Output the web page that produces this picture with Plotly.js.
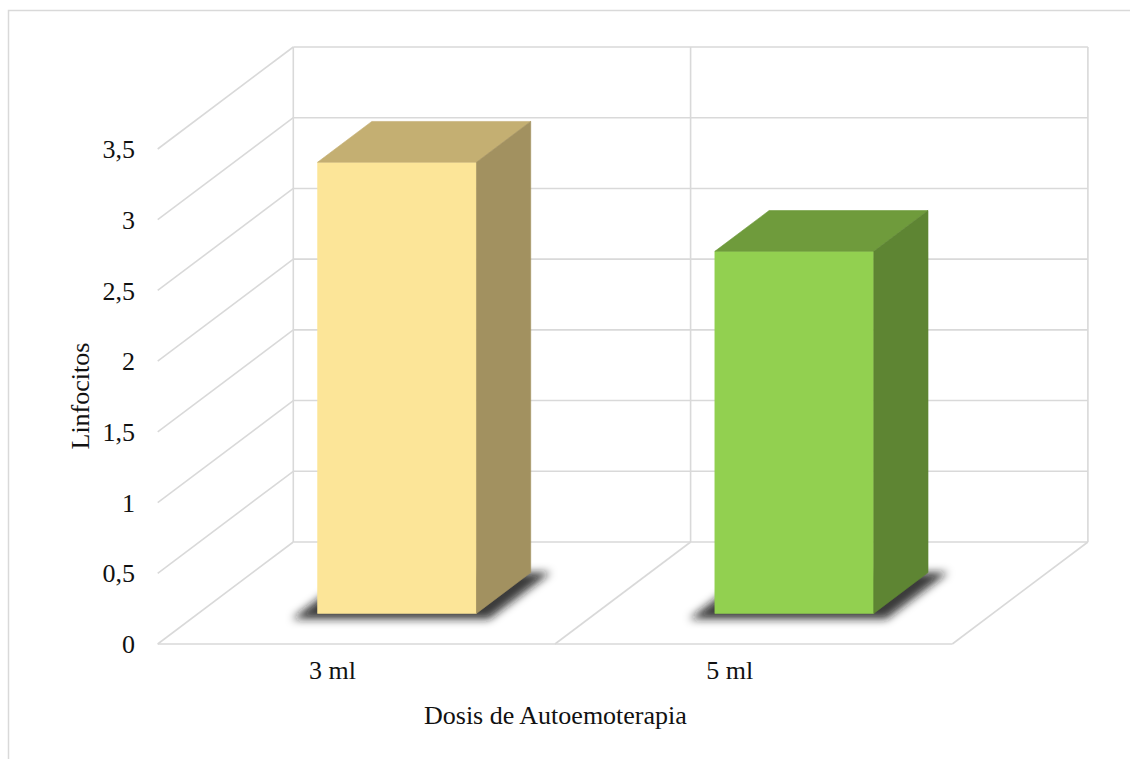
<!DOCTYPE html>
<html>
<head>
<meta charset="utf-8">
<script src="https://cdn.plot.ly/plotly-3.0.1.min.js"></script>
<style>
  html, body { margin: 0; padding: 0; background: #fff; }
  #chart { width: 1130px; height: 759px; }
</style>
</head>
<body>
<div id="chart"></div>
<script>
// Lymphocyte count by autohemotherapy dose
const categories = ['3 ml', '5 ml'];
const linfocitos = [3.19, 2.56];
const yTicks = [0, 0.5, 1, 1.5, 2, 2.5, 3, 3.5];
const yTickText = ['0', '0,5', '1', '1,5', '2', '2,5', '3', '3,5'];

// front / top / side colours of each column
const frontColors = ['#FCE598', '#92D050'];
const topColors = ['#C4AF72', '#6F9B3C'];
const sideColors = ['#A29160', '#5E8533'];

// ---- oblique 3D projection onto the 2D axes ----
// x in category units on the front plane, v in value units, d = depth (0 front .. 1 back)
const DEPTH_X = 0.3413;   // x-units shift for full depth
const DEPTH_V = 0.7212;   // value-units shift for full depth
const BAR_FROM = 0.3, BAR_TO = 0.7;   // bar extent inside its category slot (width and depth)
const WALL_TOP = yTicks[yTicks.length - 1];
const nCat = categories.length;

function P(x, v, d) { return [x + d * DEPTH_X, v + d * DEPTH_V]; }

function poly(points) {
  const xs = [], ys = [];
  points.forEach(p => { xs.push(p[0]); ys.push(p[1]); });
  xs.push(points[0][0]); ys.push(points[0][1]);
  return { x: xs, y: ys };
}

// ---- walls and floor grid ----
const gx = [], gy = [];
function seg(a, b) { gx.push(a[0], b[0], null); gy.push(a[1], b[1], null); }
yTicks.forEach(v => {
  seg(P(0, v, 0), P(0, v, 1));          // side wall
  seg(P(0, v, 1), P(nCat, v, 1));       // back wall
});
for (let i = 0; i <= nCat; i++) {
  seg(P(i, 0, 1), P(i, WALL_TOP, 1));   // back wall dividers
  if (i > 0) seg(P(i, 0, 0), P(i, 0, 1)); // floor dividers
}
seg(P(0, 0, 0), P(nCat, 0, 0));         // floor front edge

const traces = [{
  x: gx, y: gy, mode: 'lines', type: 'scatter',
  line: { color: '#D9D9D9', width: 1.6 },
  hoverinfo: 'skip', showlegend: false
}];

// ---- soft shadows under the columns ----
const shadowIdx = [];
linfocitos.forEach((v, i) => {
  const a = i + BAR_FROM - 0.045, b = i + BAR_TO + 0.05;
  const f = BAR_FROM - 0.055, k = BAR_TO;
  const s = poly([P(a, 0, f), P(b, 0, f), P(b, 0, k), P(a, 0, k)]);
  shadowIdx.push(traces.length);
  traces.push({
    x: s.x, y: s.y, mode: 'lines', type: 'scatter', fill: 'toself',
    fillcolor: 'rgba(20,20,20,0.85)', line: { width: 0, color: 'rgba(0,0,0,0)' },
    hoverinfo: 'skip', showlegend: false
  });
});

// ---- columns: front, top and right side faces ----
linfocitos.forEach((v, i) => {
  const a = i + BAR_FROM, b = i + BAR_TO;
  const faces = [
    [[P(a, 0, BAR_FROM), P(b, 0, BAR_FROM), P(b, v, BAR_FROM), P(a, v, BAR_FROM)], frontColors[i]],
    [[P(a, v, BAR_FROM), P(b, v, BAR_FROM), P(b, v, BAR_TO), P(a, v, BAR_TO)], topColors[i]],
    [[P(b, 0, BAR_FROM), P(b, 0, BAR_TO), P(b, v, BAR_TO), P(b, v, BAR_FROM)], sideColors[i]]
  ];
  faces.forEach(([pts, col]) => {
    const s = poly(pts);
    traces.push({
      x: s.x, y: s.y, mode: 'lines', type: 'scatter', fill: 'toself',
      fillcolor: col, line: { width: 0.6, color: col },
      name: categories[i], text: String(v).replace('.', ','),
      hoverinfo: 'name+text', showlegend: false
    });
  });
});

// ---- layout: plot area in pixels, mapped to data units ----
const W = 1130, H = 759;
const L = 140, R = 1100, T = 30, B = 652;
const X0_PX = 157.7, PX_PER_X = 397.3;    // front floor origin and category width
const V0_PX = 644, PX_PER_V = 141.43;     // front zero line and value scale
const LABEL_SHIFT = 0.06;

const layout = {
  width: W, height: H,
  margin: { l: L, r: W - R, t: T, b: H - B, pad: 0 },
  paper_bgcolor: '#ffffff', plot_bgcolor: 'rgba(0,0,0,0)',
  separators: ', ',
  font: { family: 'Liberation Serif, Times New Roman, serif', size: 26, color: '#111111' },
  xaxis: {
    range: [(L - X0_PX) / PX_PER_X, (R - X0_PX) / PX_PER_X],
    showgrid: false, zeroline: false, showline: false, ticks: '',
    tickmode: 'array',
    tickvals: categories.map((c, i) => i + 0.5 - LABEL_SHIFT),
    ticktext: categories,
    tickfont: { size: 26 }, fixedrange: true
  },
  yaxis: {
    range: [-(B - V0_PX) / PX_PER_V, (V0_PX - T) / PX_PER_V],
    showgrid: false, zeroline: false, showline: false, ticks: '',
    tickmode: 'array', tickvals: yTicks, ticktext: yTickText,
    tickfont: { size: 26 }, ticklabelstandoff: 4, fixedrange: true
  },
  annotations: [
    {
      text: 'Dosis de Autoemoterapia', xref: 'x', x: nCat / 2, yref: 'paper', y: 0,
      yshift: -(715 - B), xanchor: 'center', yanchor: 'middle', showarrow: false,
      font: { size: 26 }
    },
    {
      text: 'Linfocitos', xref: 'paper', x: 0, xshift: 80 - L, yref: 'y', y: WALL_TOP / 2,
      xanchor: 'center', yanchor: 'middle', textangle: -90, showarrow: false,
      font: { size: 26 }
    }
  ],
  shapes: [{
    type: 'rect', xref: 'paper', yref: 'paper',
    x0: (8.5 - L) / (R - L), x1: (W + 20 - L) / (R - L),
    y0: (B - (H + 20)) / (B - T), y1: (B - 10.5) / (B - T),
    line: { color: '#D9D9D9', width: 1.5 }, fillcolor: 'rgba(0,0,0,0)', layer: 'below'
  }],
  showlegend: false,
  hovermode: 'closest'
};

Plotly.newPlot('chart', traces, layout, { displayModeBar: false, staticPlot: true }).then(gd => {
  // blur the shadow fills
  const svg = gd.querySelector('svg.main-svg');
  const NS = 'http://www.w3.org/2000/svg';
  let defs = svg.querySelector('defs');
  if (!defs) { defs = document.createElementNS(NS, 'defs'); svg.insertBefore(defs, svg.firstChild); }
  const filter = document.createElementNS(NS, 'filter');
  filter.setAttribute('id', 'column-shadow');
  filter.setAttribute('x', '-50%'); filter.setAttribute('y', '-50%');
  filter.setAttribute('width', '200%'); filter.setAttribute('height', '200%');
  const blur = document.createElementNS(NS, 'feGaussianBlur');
  blur.setAttribute('stdDeviation', '4');
  filter.appendChild(blur);
  defs.appendChild(filter);
  const groups = gd.querySelectorAll('.scatterlayer .trace');
  shadowIdx.forEach(k => {
    const g = groups[k];
    if (!g) return;
    g.querySelectorAll('path.js-fill').forEach(p => p.setAttribute('filter', 'url(#column-shadow)'));
  });
});
</script>
</body>
</html>
